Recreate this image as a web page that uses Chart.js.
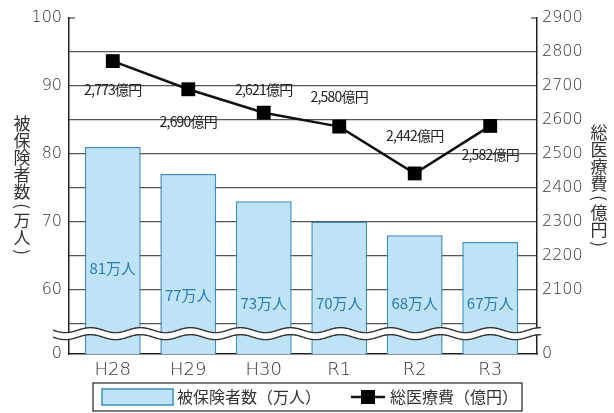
<!DOCTYPE html>
<html><head><meta charset="utf-8">
<script src="https://cdn.jsdelivr.net/npm/chart.js@4.4.0/dist/chart.umd.min.js"></script>
<style>html,body{margin:0;padding:0;background:#fff;}canvas{display:block;}</style>
</head><body>
<canvas id="c" width="614" height="413"></canvas>
<script>
// ---- data ----
const categories = ['H28', 'H29', 'H30', 'R1', 'R2', 'R3'];
const insured = [81, 77, 73, 70, 68, 67];              // 被保険者数(万人)
const insuredLabels = ['81万人', '77万人', '73万人', '70万人', '68万人', '67万人'];
const costs = [2773, 2690, 2621, 2580, 2442, 2582];     // 総医療費(億円)
const costLabels = ['2,773億円', '2,690億円', '2,621億円', '2,580億円', '2,442億円', '2,582億円'];
const leftTicks = [60, 70, 80, 90, 100];
const rightTicks = [2000, 2100, 2200, 2300, 2400, 2500, 2600, 2700, 2800, 2900];
const leftZero = 50.5;     // broken-axis bottom, shown as "0"
const rightZero = 1910;    // broken-axis bottom, shown as "0"
const seriesNames = ['被保険者数（万人）', '総医療費（億円）'];
const leftTitle = '被保険者数（万人）';
const rightTitle = '総医療費（億円）';

const TXT = '#333';
const FONT = '"DejaVu Sans", "Liberation Sans", sans-serif';
const CJK = '"Noto Sans CJK JP", "Noto Sans", sans-serif';
const BAR_FILL = '#bee3f7';
const BAR_EDGE = '#3b8dc2';
const BAR_TEXT = '#2a7bb2';

const costLabelOffsets = [29, 32, -23, -30, -38, 29];

function drawVertical(ctx, text, cx, top, size) {
  ctx.save();
  ctx.font = size + 'px ' + CJK;
  ctx.fillStyle = TXT;
  ctx.textAlign = 'center';
  ctx.textBaseline = 'middle';
  let y = top;
  for (const ch of text) {
    if (ch === '（' || ch === '）' || ch === '(' || ch === ')') {
      const adv = 12;
      ctx.save();
      ctx.translate(cx, y + adv / 2);
      ctx.rotate(Math.PI / 2);
      ctx.fillText(ch === '（' || ch === '(' ? '(' : ')', 0, 0);
      ctx.restore();
      y += adv;
    } else {
      ctx.fillText(ch, cx, y + size / 2);
      y += size;
    }
  }
  ctx.restore();
}

const decor = {
  id: 'decor',
  afterDatasetsDraw(chart) {
    const ctx = chart.ctx;
    const a = chart.chartArea;
    const y1 = chart.scales.y1;
    // bar labels
    const barMeta = chart.getDatasetMeta(1);
    ctx.save();
    ctx.font = '15px ' + CJK;
    ctx.fillStyle = BAR_TEXT;
    ctx.textAlign = 'center';
    ctx.textBaseline = 'middle';
    barMeta.data.forEach((el, i) => {
      const y = Math.min(el.y + 121, a.bottom - 51);
      ctx.fillText(insuredLabels[i], el.x, y);
    });
    ctx.restore();

    // axis break (wavy band)
    const c = y1.getPixelForValue(rightZero + 60);
    const x0 = a.left - 16, x1 = a.right + 4;
    const amp = 2.5, half = 3.5, period = 50;
    const wave = (x, off) => c + off + amp * Math.sin((x - x0) / period * 2 * Math.PI);
    ctx.save();
    ctx.beginPath();
    for (let x = x0; x <= x1; x++) { const y = wave(x, -half); x === x0 ? ctx.moveTo(x, y) : ctx.lineTo(x, y); }
    for (let x = x1; x >= x0; x--) ctx.lineTo(x, wave(x, half));
    ctx.closePath();
    ctx.fillStyle = '#fff';
    ctx.fill();
    ctx.strokeStyle = '#333';
    ctx.lineWidth = 1.4;
    [-half, half].forEach(off => {
      ctx.beginPath();
      for (let x = x0; x <= x1; x++) { const y = wave(x, off); x === x0 ? ctx.moveTo(x, y) : ctx.lineTo(x, y); }
      ctx.stroke();
    });
    // small inward ticks at the top
    ctx.strokeStyle = '#222';
    ctx.lineWidth = 1.2;
    ctx.beginPath();
    ctx.moveTo(a.left, a.top); ctx.lineTo(a.left + 6, a.top);
    ctx.moveTo(a.right, a.top); ctx.lineTo(a.right - 6, a.top);
    ctx.stroke();
    ctx.restore();
  },
  afterDraw(chart) {
    const ctx = chart.ctx;
    // cost labels
    const lineMeta = chart.getDatasetMeta(0);
    ctx.save();
    ctx.font = '14px ' + CJK;
    ctx.fillStyle = '#222';
    ctx.textAlign = 'center';
    ctx.textBaseline = 'middle';
    ctx.letterSpacing = '-0.8px';
    lineMeta.data.forEach((el, i) => {
      ctx.fillText(costLabels[i], el.x, el.y + costLabelOffsets[i]);
    });
    ctx.restore();

    // axis titles
    drawVertical(ctx, leftTitle, 22, 115, 17);
    drawVertical(ctx, rightTitle, 599, 124, 17);

    // legend
    const a = chart.chartArea;
    const lx = a.left + 24, rx = a.right - 15, ty = a.bottom + 29, by = chart.height - 2;
    ctx.save();
    ctx.strokeStyle = '#222';
    ctx.lineWidth = 1.2;
    ctx.strokeRect(lx, ty, rx - lx, by - ty);
    const my = (ty + by) / 2;
    ctx.fillStyle = BAR_FILL;
    ctx.fillRect(lx + 9, my - 8, 71, 16);
    ctx.strokeStyle = BAR_EDGE;
    ctx.lineWidth = 1.5;
    ctx.strokeRect(lx + 9, my - 8, 71, 16);
    ctx.font = '16px ' + CJK;
    ctx.fillStyle = TXT;
    ctx.textBaseline = 'middle';
    ctx.textAlign = 'left';
    ctx.fillText(seriesNames[0], lx + 84, my);
    const sx = 351;
    ctx.strokeStyle = '#111';
    ctx.lineWidth = 2.5;
    ctx.beginPath(); ctx.moveTo(sx, my); ctx.lineTo(sx + 34, my); ctx.stroke();
    ctx.fillStyle = '#000';
    ctx.fillRect(sx + 10, my - 7, 14, 14);
    ctx.fillStyle = TXT;
    ctx.fillText(seriesNames[1], sx + 39, my);
    ctx.restore();
  }
};

new Chart(document.getElementById('c'), {
  type: 'bar',
  data: {
    datasets: [
      {
        type: 'line',
        label: seriesNames[1],
        data: costs.map((v, i) => ({ x: i, y: v })),
        yAxisID: 'y1',
        borderColor: '#111',
        borderWidth: 2.5,
        pointStyle: 'rect',
        pointRadius: 9.8,
        pointBackgroundColor: '#000',
        pointBorderWidth: 0,
        order: 0
      },
      {
        type: 'bar',
        label: seriesNames[0],
        data: insured.map((v, i) => ({ x: i, y: v })),
        yAxisID: 'y',
        backgroundColor: BAR_FILL,
        borderColor: BAR_EDGE,
        borderWidth: { top: 1.5, left: 1.5, right: 1.5, bottom: 0 },
        borderSkipped: 'bottom',
        categoryPercentage: 1,
        barPercentage: 0.74,
        order: 1
      }
    ]
  },
  options: {
    responsive: false,
    animation: false,
    devicePixelRatio: 1,
    layout: { padding: { top: 18, bottom: 33, left: 0, right: 0 } },
    plugins: { legend: { display: false }, tooltip: { enabled: false } },
    scales: {
      x: {
        type: 'linear',
        offset: false,
        min: -0.58,
        max: 5.62,
        afterBuildTicks: s => { s.ticks = categories.map((c, i) => ({ value: i })); },
        afterFit: s => { s.height = 26; },
        ticks: { callback: v => categories[v], color: TXT, font: { size: 18, family: FONT, weight: '300' }, padding: 6, maxRotation: 0, autoSkip: false },
        grid: { display: false, drawTicks: false, offset: false },
        border: { display: true, color: '#222', width: 1.5 }
      },
      y: {
        position: 'left',
        min: leftZero,
        max: 100,
        afterBuildTicks: s => { s.ticks = [leftZero, ...leftTicks].map(v => ({ value: v })); },
        afterFit: s => { s.width = 69; },
        ticks: { callback: v => v === leftZero ? '0' : String(v), color: TXT, font: { size: 16, family: FONT, weight: '300' }, padding: 7 },
        grid: { display: false, drawTicks: false },
        border: { display: true, color: '#222', width: 1.5 }
      },
      y1: {
        position: 'right',
        min: rightZero,
        max: 2900,
        afterBuildTicks: s => { s.ticks = [rightZero, ...rightTicks].map(v => ({ value: v })); },
        afterFit: s => { s.width = 77; },
        ticks: { callback: v => v === rightZero ? '0' : (v === 2000 ? '' : String(v)), color: TXT, font: { size: 16, family: FONT, weight: '300' }, padding: 5 },
        grid: {
          drawTicks: false,
          color: c => (c.tick && (c.tick.value === rightZero || c.tick.value === 2900)) ? 'rgba(0,0,0,0)' : '#555',
          lineWidth: 1.2
        },
        border: { display: true, color: '#222', width: 1.5 }
      }
    }
  },
  plugins: [decor]
});
</script>
</body></html>
